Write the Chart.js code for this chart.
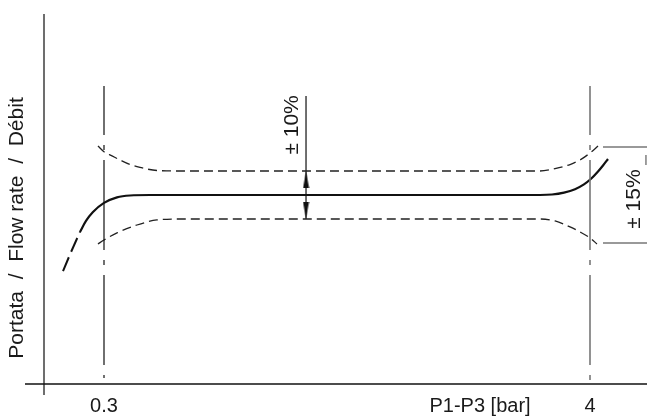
<!DOCTYPE html>
<html>
<head>
<meta charset="utf-8">
<script src="https://cdn.jsdelivr.net/npm/chart.js@4/dist/chart.umd.min.js"></script>
<style>
  html, body { margin: 0; padding: 0; background: #fff; }
  canvas { display: block; }
</style>
</head>
<body>
<canvas id="flowChart" width="647" height="419"></canvas>
<script>
// x in bar (P1-P3), y in % of nominal flow (100 = nominal)
const xTicks = [0.3, 3.163, 4];
const xTickLabels = ['0.3', 'P1-P3 [bar]', '4'];
const yTitle = 'Portata  /  Flow rate  /  Débit';

// nominal curve (solid part) and its dashed start
const flowX = [0.117, 0.163, 0.216, 0.300, 0.399, 0.498, 0.650, 3.619, 3.711, 3.802, 3.886, 3.954, 4.008, 4.061, 4.099, 4.137];
const flowY = [84.6, 89.2, 92.9, 96.7, 99.0, 99.8, 100, 100, 100.2, 101.0, 102.4, 104.4, 106.75, 109.8, 112.3, 115.0];
const startX = [-0.012, 0.049, 0.117];
const startY = [68.3, 76.25, 84.6];

// tolerance band
const upperX = [0.254, 0.300, 0.361, 0.422, 0.498, 0.574, 0.703, 0.879, 3.619, 3.734, 3.848, 3.924, 4.000, 4.061];
const upperY = [120.4, 118.0, 116.3, 114.6, 112.7, 111.5, 110.2, 110, 110, 111.0, 112.7, 114.6, 117.5, 120.4];
const lowerX = [0.254, 0.300, 0.399, 0.551, 0.703, 0.879, 3.619, 3.734, 3.848, 3.924, 4.000, 4.053];
const lowerY = [79.6, 81.25, 84.2, 87.5, 89.6, 90, 90, 89.2, 86.7, 84.6, 82.1, 79.6];

// limits of the working range
const rangeX = [0.3, 4];
const rangeTop = 145.4;
const rangeBottom = [23.75, 22.9];

// +-10% dimension line and +-15% bracket
const dimX = 1.838;
const dimTop = 141.25;
const bandHigh = 110;
const bandLow = 90;
const bracketX = [4.099, 4.434];
const bracketY = [120, 80];
const bracketEdgeX = 4.426;
const bracketEdgeY = [116.7, 112.5, 87.5, 82.9];

// axis lines
const axisXRange = [-0.3015, 4.434];
const axisXLevel = 21.25;
const axisYPos = -0.1568;
const axisYRange = [16.67, 175.4];

const notes = [
  { text: '± 10%', x: 1.731, y: 129.2 },
  { text: '± 15%', x: 4.335, y: 98.3 }
];
const yTitlePos = { x: -0.362, y: 86.25 };

const pts = (xs, ys) => xs.map((x, i) => ({ x, y: ys[i] }));

// slim arrow head for the dimension line
const arrow = document.createElement('canvas');
arrow.width = 7;
arrow.height = 17;
{
  const a = arrow.getContext('2d');
  a.fillStyle = '#111';
  a.beginPath();
  a.moveTo(3.5, 0);
  a.lineTo(6.5, 17);
  a.lineTo(0.5, 17);
  a.closePath();
  a.fill();
}
const arrowLen = 17 / 2.4;

const textPlugin = {
  id: 'rotatedText',
  afterDatasetsDraw(chart) {
    const { ctx, scales: { x, y } } = chart;
    const draw = (text, px, py, size) => {
      ctx.save();
      ctx.translate(px, py);
      ctx.rotate(-Math.PI / 2);
      ctx.font = `${size}px "Liberation Sans", Arial, sans-serif`;
      ctx.fillStyle = '#1a1a1a';
      ctx.textAlign = 'center';
      ctx.textBaseline = 'middle';
      ctx.fillText(text, 0, 0);
      ctx.restore();
    };
    notes.forEach(n => draw(n.text, x.getPixelForValue(n.x), y.getPixelForValue(n.y), 21));
    draw(yTitle, x.getPixelForValue(yTitlePos.x), y.getPixelForValue(yTitlePos.y), 21);
  }
};

const line = (data, color, width, dash, extra = {}) => Object.assign({
  data,
  borderColor: color,
  borderWidth: width,
  borderDash: dash,
  pointRadius: 0,
  fill: false,
  tension: 0
}, extra);

const datasets = [
  line([{ x: axisXRange[0], y: axisXLevel }, { x: axisXRange[1], y: axisXLevel }], '#111', 1.5, [], { clip: false }),
  line([{ x: axisYPos, y: axisYRange[0] }, { x: axisYPos, y: axisYRange[1] }], '#6e6e6e', 2, [], { clip: false }),
  line([{ x: rangeX[0], y: rangeTop }, { x: rangeX[0], y: rangeBottom[0] }], '#111', 1.2, [90, 10, 5, 10], { borderDashOffset: 41 }),
  line([{ x: rangeX[1], y: rangeTop }, { x: rangeX[1], y: rangeBottom[1] }], '#777', 1.6, [90, 10, 5, 10], { borderDashOffset: 41 }),
  line(pts(upperX, upperY), '#222', 1.3, [9, 5], { cubicInterpolationMode: 'monotone' }),
  line(pts(lowerX, lowerY), '#222', 1.3, [9, 5], { cubicInterpolationMode: 'monotone' }),
  line(pts(startX, startY), '#111', 2, [15, 6]),
  line(pts(flowX, flowY), '#111', 2.2, [], { cubicInterpolationMode: 'monotone' }),
  line([{ x: dimX, y: dimTop }, { x: dimX, y: bandLow }], '#111', 1.2, []),
  {
    data: [{ x: dimX, y: bandHigh - arrowLen / 2 }, { x: dimX, y: bandLow + arrowLen / 2 }],
    showLine: false,
    pointStyle: arrow,
    pointRotation: [0, 180],
    pointRadius: 3
  },
  line([{ x: bracketX[0], y: bracketY[0] }, { x: bracketX[1], y: bracketY[0] }], '#777', 1.4, [], { clip: false }),
  line([{ x: bracketX[0], y: bracketY[1] }, { x: bracketX[1], y: bracketY[1] }], '#777', 1.4, [], { clip: false }),
  line([
    { x: bracketEdgeX, y: bracketEdgeY[0] }, { x: bracketEdgeX, y: bracketEdgeY[1] },
    { x: bracketEdgeX, y: null },
    { x: bracketEdgeX, y: bracketEdgeY[2] }, { x: bracketEdgeX, y: bracketEdgeY[3] }
  ], '#777', 1.4, [], { clip: false, spanGaps: false })
];

new Chart(document.getElementById('flowChart').getContext('2d'), {
  type: 'line',
  data: { datasets },
  options: {
    responsive: false,
    animation: false,
    layout: { padding: { top: 10, right: 0, bottom: 0, left: 26 } },
    plugins: { legend: { display: false }, tooltip: { enabled: false } },
    scales: {
      x: {
        type: 'linear',
        min: -0.29383,
        max: 4.3959,
        grid: { display: false, drawTicks: false },
        border: { display: false },
        afterBuildTicks: scale => { scale.ticks = xTicks.map(v => ({ value: v })); },
        afterFit: scale => { scale.height = 29; },
        ticks: {
          autoSkip: false,
          maxRotation: 0,
          padding: 4,
          color: '#1a1a1a',
          font: { family: '"Liberation Sans", Arial, sans-serif', size: 20 },
          callback: (value, index) => xTickLabels[index]
        }
      },
      y: {
        display: false,
        min: 18.75,
        max: 177.083
      }
    }
  },
  plugins: [textPlugin]
});
</script>
</body>
</html>
